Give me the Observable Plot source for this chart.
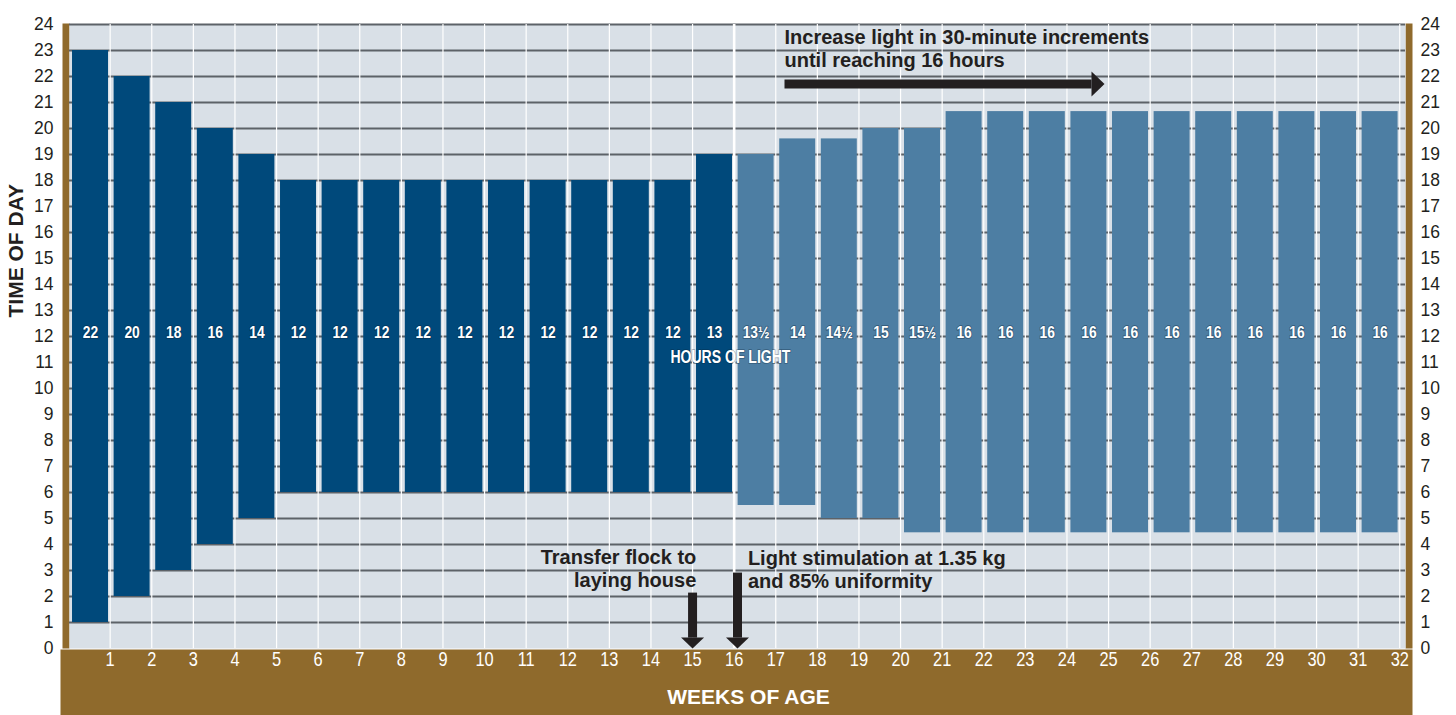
<!DOCTYPE html>
<html><head><meta charset="utf-8">
<script src="https://cdn.jsdelivr.net/npm/d3@7"></script>
<script src="https://cdn.jsdelivr.net/npm/@observablehq/plot@0.6"></script>
<style>
html,body{margin:0;padding:0;background:#fff;}
#chart svg{display:block;}
</style></head><body><div id="chart"></div>
<script>
// ---- data ----
const weeks = [1,2,3,4,5,6,7,8,9,10,11,12,13,14,15,16,17,18,19,20,21,22,23,24,25,26,27,28,29,30,31,32];
const lightsOn  = [1,2,3,4,5,6,6,6,6,6,6,6,6,6,6,6,5.5,5.5,5,5,4.45,4.45,4.45,4.45,4.45,4.45,4.45,4.45,4.45,4.45,4.45,4.45];
const lightsOff = [23,22,21,20,19,18,18,18,18,18,18,18,18,18,18,19,19,19.6,19.6,20,20,20.65,20.65,20.65,20.65,20.65,20.65,20.65,20.65,20.65,20.65,20.65];
const hoursLabels = ["22","20","18","16","14","12","12","12","12","12","12","12","12","12","12","13","13½","14","14½","15","15½","16","16","16","16","16","16","16","16","16","16","16"];
const phases = ["rearing","rearing","rearing","rearing","rearing","rearing","rearing","rearing","rearing","rearing","rearing","rearing","rearing","rearing","rearing","rearing",
  "laying","laying","laying","laying","laying","laying","laying","laying","laying","laying","laying","laying","laying","laying","laying","laying"];
const hourTicks = [0,1,2,3,4,5,6,7,8,9,10,11,12,13,14,15,16,17,18,19,20,21,22,23,24];
const weekTicks = [1,2,3,4,5,6,7,8,9,10,11,12,13,14,15,16,17,18,19,20,21,22,23,24,25,26,27,28,29,30,31,32];

const table = weeks.map((w, i) => ({week: w, on: lightsOn[i], off: lightsOff[i], label: hoursLabels[i], phase: phases[i]}));

// ---- style ----
const BROWN = "#8f6a2c", BG = "#d9e0e7", INK = "#231f20";
const FONT = "'Liberation Sans', Arial, Helvetica, sans-serif";
const BAR = 0.865, TICKSHIFT = 0.04;

const headRight = {draw(ctx) { ctx.moveTo(13, 0); ctx.lineTo(0, -12.5); ctx.lineTo(0, 12.5); ctx.closePath(); }};
const headDown  = {draw(ctx) { ctx.moveTo(0, 11); ctx.lineTo(-11.5, 0); ctx.lineTo(11.5, 0); ctx.closePath(); }};

const downArrows = [{x: 15.04, y1: 2.15, y2: 0.42}, {x: 16.12, y1: 2.92, y2: 0.42}];
const rightArrow = [{x1: 17.25, x2: 24.63, y: 21.71}];

// the original uses a condensed face; no narrow font is installed, so squeeze glyphs horizontally
// about Plot's own anchor point (keeps Plot's positioning, offsets included)
function squeeze(f) {
  return function (index, scales, values, dimensions, context, next) {
    const g = next(index, scales, values, dimensions, context);
    g.querySelectorAll("text").forEach(el => {
      const t = el.getAttribute("transform");
      if (t) el.setAttribute("transform", `${t} scale(${f},1)`);
    });
    return g;
  };
}

const chart = Plot.plot({
  width: 1456, height: 715,
  marginLeft: 69, marginRight: 51, marginTop: 24, marginBottom: 67,
  style: {fontFamily: FONT, fontSize: "17px", color: INK, background: "white", overflow: "visible"},
  x: {type: "linear", domain: [0.0625, 32.178], axis: null},
  y: {domain: [0, 24]},
  color: {domain: ["rearing", "laying"], range: ["#00497b", "#4d7ea3"]},
  marks: [
    // brown frame pieces
    Plot.frame({fill: BROWN, stroke: "none", insetTop: 625, insetBottom: -67, insetLeft: -9, insetRight: -7}),
    Plot.frame({fill: BROWN, stroke: "none", insetLeft: -7, insetRight: 1336, insetTop: -1}),
    Plot.frame({fill: BROWN, stroke: "none", insetLeft: 1336, insetRight: -7, insetTop: -1}),
    Plot.frame({fill: BG, stroke: "none"}),
    // grid
    Plot.ruleY(hourTicks.filter(h => h > 0), {stroke: "#5d6268", strokeWidth: 1.8}),
    Plot.ruleX(weekTicks, {x: d => d + TICKSHIFT, stroke: "white", strokeWidth: d => d === 16 ? 2.6 : 1.2}),
    // bars
    Plot.rect(table, {x1: d => d.week - BAR, x2: "week", y1: "on", y2: "off", fill: "phase"}),
    Plot.text(table, {x: d => d.week - BAR / 2, y: 12.15, text: "label", fill: "white", fontWeight: "bold",
      fontSize: 16.5, stroke: "#0a2033", strokeOpacity: 0.35, strokeWidth: 2, render: squeeze(0.84)}),
    Plot.text(["HOURS OF LIGHT"], {x: 15.95, y: 11.2, fill: "white", fontWeight: "bold", fontSize: 18,
      stroke: "#0a2033", strokeOpacity: 0.3, strokeWidth: 2, render: squeeze(0.78)}),
    // axes
    Plot.axisY(hourTicks, {anchor: "left", tickSize: 0, tickPadding: 16, fontSize: 17.5, color: INK, label: null}),
    Plot.axisY(hourTicks, {anchor: "right", tickSize: 0, tickPadding: 15, fontSize: 17.5, color: INK, label: null}),
    Plot.text(weekTicks, {x: d => d + TICKSHIFT, text: d => String(d), frameAnchor: "bottom", dy: 17,
      fill: "white", fontSize: 20, render: squeeze(0.82)}),
    Plot.text(["WEEKS OF AGE"], {frameAnchor: "bottom", dx: 11, dy: 55, fill: "white", fontWeight: "bold", fontSize: 21}),
    Plot.text(["TIME OF DAY"], {frameAnchor: "left", rotate: -90, dx: -53, dy: -19, fill: INK, fontWeight: "bold", fontSize: 21}),
    // annotations
    Plot.text(["Increase light in 30-minute increments\nuntil reaching 16 hours"], {x: 17.25, y: 23.08, textAnchor: "start",
      lineHeight: 1.15, fill: INK, fontWeight: "bold", fontSize: 20}),
    Plot.link(rightArrow, {x1: "x1", x2: "x2", y1: "y", y2: "y", stroke: INK, strokeWidth: 9}),
    Plot.dot(rightArrow, {x: "x2", y: "y", symbol: headRight, fill: INK, stroke: "none", r: 5}),
    Plot.text(["Transfer flock to\nlaying house"], {x: 15.13, y: 3.1, textAnchor: "end",
      lineHeight: 1.15, fill: INK, fontWeight: "bold", fontSize: 20}),
    Plot.text(["Light stimulation at 1.35 kg\nand 85% uniformity"], {x: 16.37, y: 3.04, textAnchor: "start",
      lineHeight: 1.15, fill: INK, fontWeight: "bold", fontSize: 20}),
    Plot.link(downArrows, {x1: "x", x2: "x", y1: "y1", y2: "y2", stroke: INK, strokeWidth: 9}),
    Plot.dot(downArrows, {x: "x", y: "y2", symbol: headDown, fill: INK, stroke: "none", r: 5})
  ]
});
document.getElementById("chart").appendChild(chart);
</script>
</body></html>
